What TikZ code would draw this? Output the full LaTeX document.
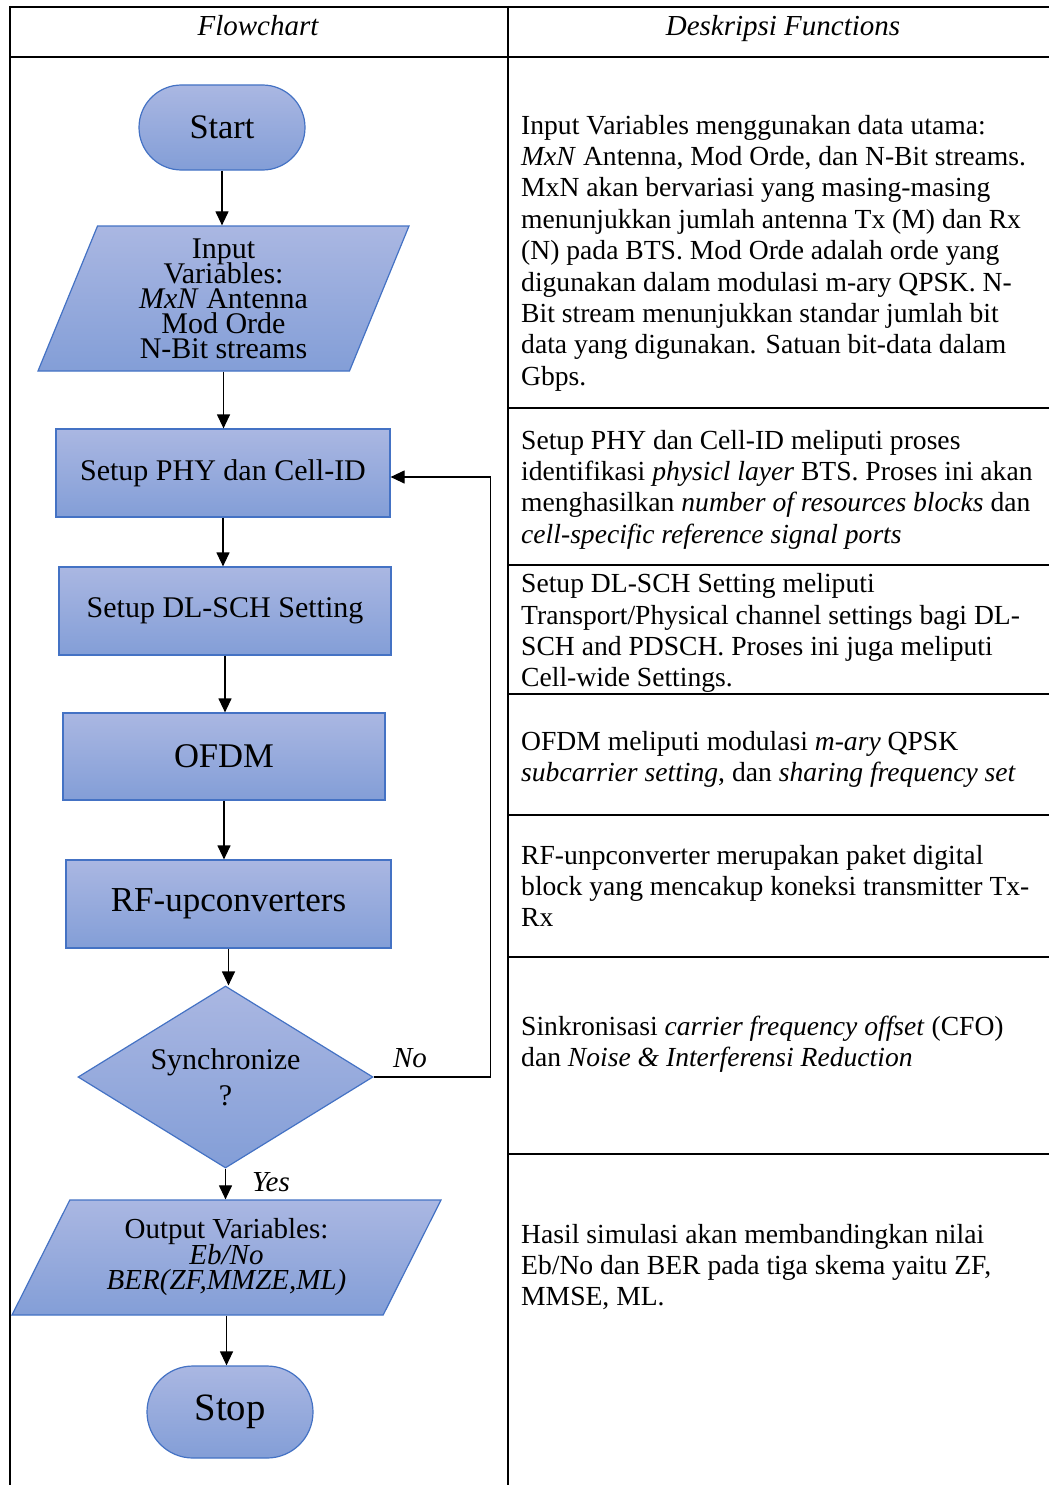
\documentclass[tikz,border=0pt]{standalone}
\usepackage{fontspec}
\setmainfont{Liberation Serif}
\usetikzlibrary{shapes.geometric,shapes.misc,arrows.meta}

\definecolor{shtop}{RGB}{170,183,226}
\definecolor{shbot}{RGB}{131,158,215}
\definecolor{edgeblue}{RGB}{68,114,196}

\newcommand{\cellfont}{\fontsize{27.6}{31.4}\selectfont}
\newcommand{\boxfont}{\fontsize{30}{36}\selectfont}

\tikzset{
  blockfill/.style={draw=edgeblue, line width=1.2pt, top color=shtop, bottom color=shbot,
    inner sep=0pt, align=center, text=black},
  procbox/.style={blockfill, rectangle, minimum width=#1, minimum height=88pt, font=\boxfont},
  termbox/.style={blockfill, rounded rectangle, minimum width=166pt, minimum height=#1},
  iobox/.style={blockfill, trapezium, trapezium stretches body},
  flow/.style={line width=1.2pt, -{Triangle[width=13pt,length=14pt]}},
  rule/.style={line width=1.8pt},
  desc/.style={anchor=north west, inner sep=0pt, align=left, font=\cellfont},
  head/.style={anchor=base, inner sep=0pt, font=\fontsize{29}{32}\selectfont\itshape},
  branch/.style={inner sep=0pt, font=\fontsize{29}{30}\selectfont\itshape},
}

\begin{document}
\begin{tikzpicture}[x=1pt,y=-1pt]
\useasboundingbox (0,0) rectangle (1049,1485);

% table frame
\draw[rule] (9,7) -- (1049,7);
\draw[rule] (9,57) -- (1049,57);
\draw[rule] (10,6) -- (10,1485);
\draw[rule] (508,6) -- (508,1485);
\foreach \yy in {408,565,694,815,957,1154}
  \draw[rule] (508,\yy) -- (1049,\yy);

% column headings
\node[head] (hflow) at (258,36) {Flowchart};
\node[head] (hdesc) at (783,36) {Deskripsi Functions};

% flowchart blocks
\node[termbox=85pt, font=\fontsize{34.4}{40}\selectfont] (start) at (222,127.5) {Start};
\node[iobox, trapezium left angle=63.6, trapezium right angle=116.4,
      minimum width=371pt, minimum height=145pt,
      font={\fontsize{30}{25}\selectfont\lineskiplimit=-60pt}] (input) at (223.5,298.5)
  {Input\\Variables:\\\textit{MxN} Antenna\\Mod Orde\\N-Bit streams};
\node[procbox=334pt] (phy) at (223,473) {Setup PHY dan Cell-ID};
\node[procbox=332pt] (dlsch) at (225,611) {Setup DL-SCH Setting};
\node[procbox=322pt, minimum height=87pt, font=\fontsize{34.6}{40}\selectfont] (ofdm) at (224,756.5) {OFDM};
\node[procbox=325pt, font=\fontsize{35}{40}\selectfont] (rf) at (228.5,904) {RF-upconverters};
\node[blockfill, diamond, aspect=1.62, minimum width=295pt, minimum height=182pt,
      font=\boxfont] (sync) at (225.5,1077) {Synchronize\\?};
\node[iobox, trapezium left angle=53.2, trapezium right angle=126.8,
      minimum width=429pt, minimum height=115pt,
      font={\fontsize{29}{25.5}\selectfont\lineskiplimit=-60pt}] (output) at (226.5,1257.5)
  {Output Variables:\\\textit{Eb/No}\\\textit{BER(ZF,MMZE,ML)}};
\node[termbox=92pt, font=\fontsize{38.7}{44}\selectfont] (stop) at (230,1412) {Stop};

% connectors
\draw[flow] (start.south) -- (start.south |- input.north);
\draw[flow] (input.south) -- (input.south |- phy.north);
\draw[flow] (phy.south) -- (phy.south |- dlsch.north);
\draw[flow] (dlsch.south) -- (dlsch.south |- ofdm.north);
\draw[flow] (ofdm.south) -- (ofdm.south |- rf.north);
\draw[flow] (rf.south) -- (rf.south |- sync.north);
\draw[flow] (sync.south) -- (sync.south |- output.north);
\draw[flow] (output.south) -- (output.south |- stop.north);
\draw[flow] (sync.east) -- ++(117,0) |- ([yshift=-4pt]phy.east);

\node[branch] (nolab) at (410,1058) {No};
\node[branch] (yeslab) at (271,1182) {Yes};

% descriptions
\node[desc] (d1) at (521,112) {\strut Input Variables menggunakan data utama:\\
  \textit{MxN} Antenna, Mod Orde, dan N-Bit streams.\\
  MxN akan bervariasi yang masing-masing\\
  menunjukkan jumlah antenna Tx (M) dan Rx\\
  (N) pada BTS. Mod Orde adalah orde yang\\
  digunakan dalam modulasi m-ary QPSK. N-\\
  Bit stream menunjukkan standar jumlah bit\\
  data yang digunakan. Satuan bit-data dalam\\
  Gbps.};
\node[desc] (d2) at (521,427) {\strut Setup PHY dan Cell-ID meliputi proses\\
  identifikasi \textit{physicl layer} BTS. Proses ini akan\\
  menghasilkan \textit{number of resources blocks} dan\\
  \textit{cell-specific reference signal ports}};
\node[desc] (d3) at (521,570.5) {\strut Setup DL-SCH Setting meliputi\\
  Transport/Physical channel settings bagi DL-\\
  SCH and PDSCH. Proses ini juga meliputi\\
  Cell-wide Settings.};
\node[desc] (d4) at (521,728) {\strut OFDM meliputi modulasi \textit{m-ary} QPSK\\
  \textit{subcarrier setting}, dan \textit{sharing frequency set}};
\node[desc] (d5) at (521,842) {\strut RF-unpconverter merupakan paket digital\\
  block yang mencakup koneksi transmitter Tx-\\
  Rx};
\node[desc] (d6) at (521,1013) {\strut Sinkronisasi \textit{carrier frequency offset} (CFO)\\
  dan \textit{Noise \& Interferensi Reduction}};
\node[desc] (d7) at (521,1221) {\strut Hasil simulasi akan membandingkan nilai\\
  Eb/No dan BER pada tiga skema yaitu ZF,\\
  MMSE, ML.};
\end{tikzpicture}
\end{document}
